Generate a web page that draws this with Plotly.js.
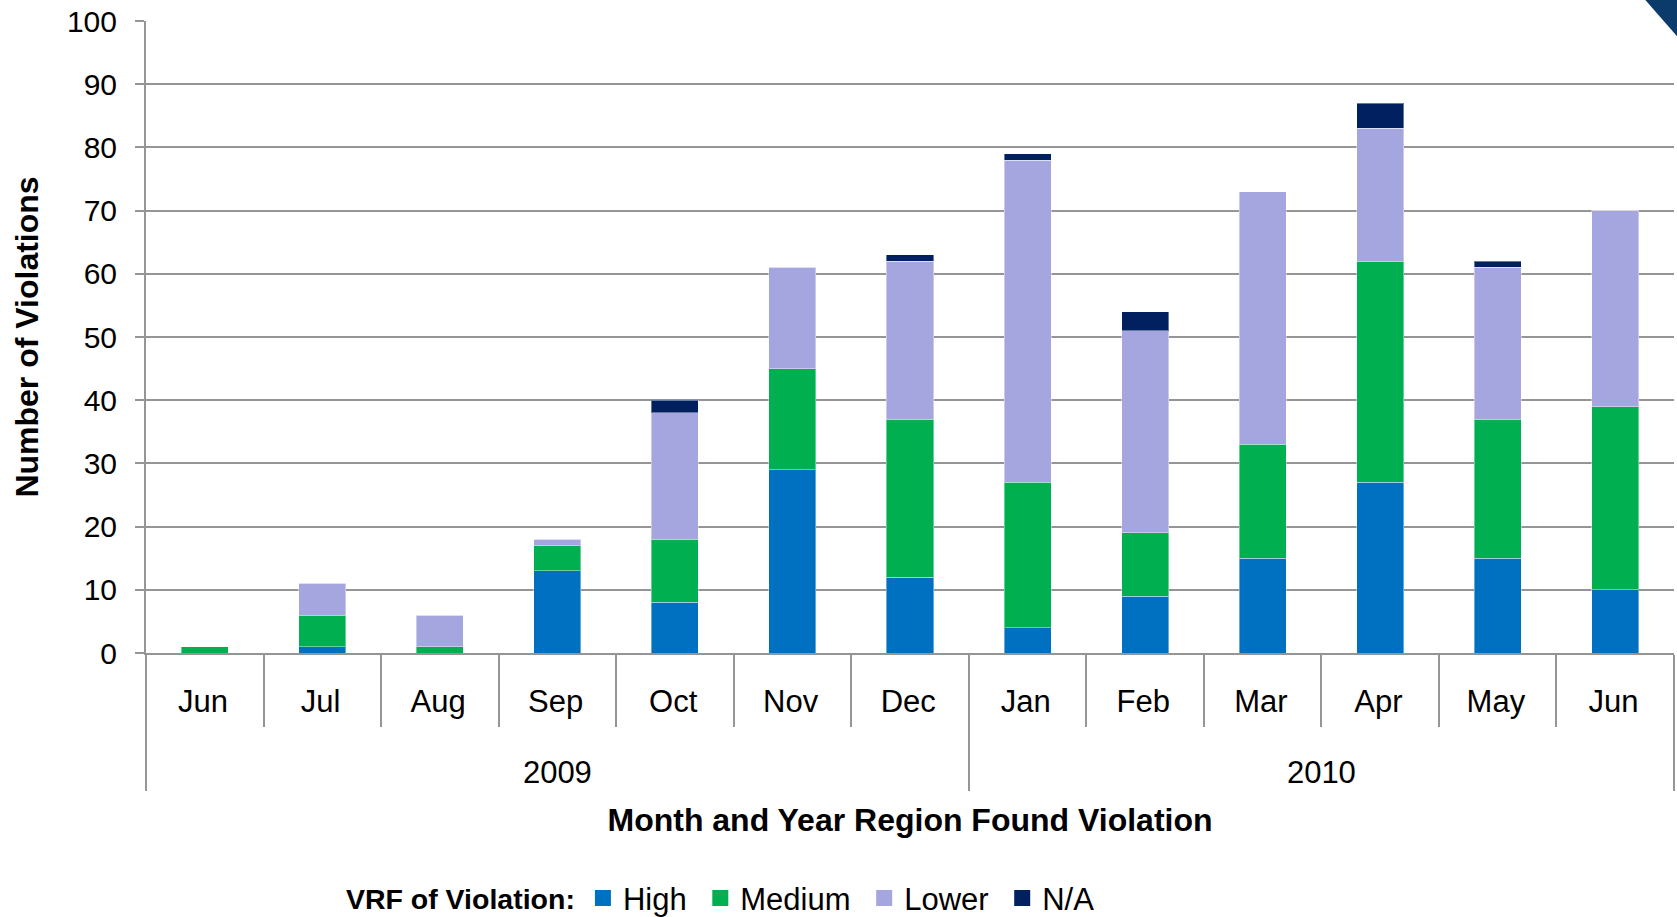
<!DOCTYPE html>
<html>
<head>
<meta charset="utf-8">
<script src="https://cdn.plot.ly/plotly-3.0.1.min.js"></script>
<style>html,body{margin:0;padding:0;background:#fff;}#chart{width:1677px;height:917px;}</style>
</head>
<body>
<div id="chart"></div>
<script>
const months = ['Jun','Jul','Aug','Sep','Oct','Nov','Dec','Jan','Feb','Mar','Apr','May','Jun'];
const years = ['2009','2009','2009','2009','2009','2009','2009','2010','2010','2010','2010','2010','2010'];
const high   = [0, 1, 0, 13, 8, 29, 12, 4, 9, 15, 27, 15, 10];
const medium = [1, 5, 1, 4, 10, 16, 25, 23, 10, 18, 35, 22, 29];
const lower  = [0, 5, 5, 1, 20, 16, 25, 51, 32, 40, 21, 24, 31];
const na     = [0, 0, 0, 0, 2, 0, 1, 1, 3, 0, 4, 1, 0];
const seriesNames = ['High','Medium','Lower','N/A'];
const seriesColors = ['#0070C0','#00B050','#A5A5E0','#002060'];
const legendTitle = 'VRF of Violation:';

const FONT = 'Liberation Sans, Arial, sans-serif';
const GRID = '#959595';

// keep repeated month names distinct (zero-width space) so the axis keeps data order;
// a tall hair space enlarges the month row so the year row sits lower
const seen = {};
const monthKeys = months.map(m => {
  const k = m + '\u200B'.repeat(seen[m] || 0) + '<span style="font-size:43px">\u200A</span>';
  seen[m] = (seen[m] || 0) + 1;
  return k;
});
const yearKeys = years.map(y => '<br>' + y);
const xcat = [yearKeys, monthKeys];

const barTraces = [high, medium, lower, na].map((vals, i) => ({
  type: 'bar',
  name: seriesNames[i],
  x: xcat,
  y: vals,
  marker: {color: seriesColors[i], line: {width: 1, color: 'rgba(255,255,255,0.4)'}},
  showlegend: false,
  hoverinfo: 'y+name'
}));
// legend-only entries (larger square swatches), no visible points
const legendTraces = seriesNames.map((n, i) => ({
  type: 'scatter', mode: 'markers',
  name: i < seriesNames.length - 1 ? n + '\u00A0' : n,
  x: [[yearKeys[0]], [monthKeys[0]]], y: [null],
  marker: {symbol: 'square', size: 16, color: seriesColors[i]},
  showlegend: true, hoverinfo: 'skip'
}));

// plot-area pixel geometry used for the corner decoration
const L = 145.5, R = 1674, T = 21.4, B = 653.5;
const px = v => (v - L) / (R - L);
const py = v => (B - v) / (B - T);

const layout = {
  width: 1677, height: 917,
  margin: {l: 145.5, r: 3, t: 21.4, b: 263.5, pad: 0, autoexpand: false},
  paper_bgcolor: '#fff', plot_bgcolor: '#fff',
  barmode: 'stack',
  bargap: 0.6,
  font: {family: FONT, color: '#000', size: 30},
  showlegend: true,
  legend: {
    orientation: 'h',
    x: 0.1295, xanchor: 'left',
    y: py(899), yanchor: 'middle',
    title: {text: legendTitle, side: 'left', font: {family: FONT, size: 28.5, weight: 700}},
    font: {family: FONT, size: 31},
    traceorder: 'normal',
    itemwidth: 30
  },
  xaxis: {
    type: 'multicategory',
    range: [-0.5, months.length - 0.5],
    autorange: false,
    showline: true, linecolor: GRID, linewidth: 2,
    ticks: 'outside', tickson: 'boundaries', ticklen: 72, tickwidth: 2, tickcolor: GRID,
    showdividers: true, dividercolor: GRID, dividerwidth: 2,
    showgrid: false,
    tickfont: {family: FONT, size: 31},
    ticklabelstandoff: 20,
    title: {text: 'Month and Year Region Found Violation', font: {family: FONT, size: 32, weight: 700}, standoff: 20},
    automargin: false
  },
  yaxis: {
    range: [0, 100], dtick: 10, tick0: 0,
    showline: true, linecolor: GRID, linewidth: 2,
    ticks: 'outside', ticklen: 9, tickwidth: 2, tickcolor: GRID,
    showgrid: true, gridcolor: GRID, gridwidth: 2,
    zeroline: false,
    tickfont: {family: FONT, size: 30},
    ticklabelstandoff: 12,
    title: {text: 'Number of Violations', font: {family: FONT, size: 32, weight: 700}, standoff: 19},
    automargin: false
  },
  shapes: [{
    type: 'path', xref: 'paper', yref: 'paper',
    path: `M ${px(1645)} ${py(0)} L ${px(1680)} ${py(0)} L ${px(1680)} ${py(40)} Z`,
    fillcolor: '#0B3B6A', line: {width: 0}, layer: 'above'
  }]
};

Plotly.newPlot('chart', barTraces.concat(legendTraces), layout, {displayModeBar: false, staticPlot: true});
</script>
</body>
</html>
